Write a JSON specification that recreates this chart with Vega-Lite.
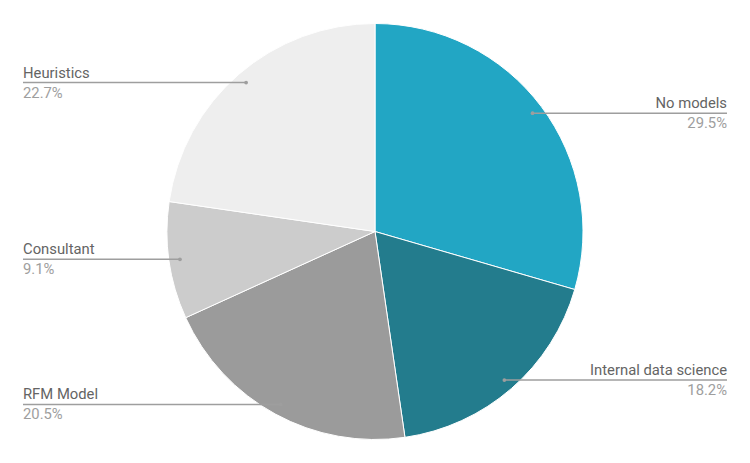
{
  "$schema": "https://vega.github.io/schema/vega-lite/v6.json",
  "width": 750,
  "height": 463,
  "padding": 0,
  "autosize": {"type": "fit", "contains": "padding"},
  "background": "white",
  "config": {"view": {"stroke": null}},
  "data": {
    "values": [
      {"category": "No models", "value": 29.5},
      {"category": "Internal data science", "value": 18.2},
      {"category": "RFM Model", "value": 20.5},
      {"category": "Consultant", "value": 9.1},
      {"category": "Heuristics", "value": 22.7}
    ]
  },
  "transform": [
    {"window": [{"op": "row_number", "as": "idx"}]},
    {"window": [{"op": "sum", "field": "value", "as": "cum"}], "sort": [{"field": "idx"}], "frame": [null, 0]},
    {"joinaggregate": [{"op": "sum", "field": "value", "as": "total"}]},
    {"calculate": "(datum.cum - datum.value / 2) / datum.total * 2 * PI", "as": "mid"},
    {"calculate": "197 * sin(datum.mid)", "as": "px"},
    {"calculate": "197 * cos(datum.mid)", "as": "py"},
    {"calculate": "datum.px > 0 ? 352 : -352", "as": "lx"},
    {"calculate": "format(datum.value / datum.total * 100, '.1f') + '%'", "as": "pct"}
  ],
  "encoding": {},
  "layer": [
    {
      "mark": {"type": "arc", "outerRadius": 208, "stroke": "white", "strokeWidth": 1},
      "encoding": {
        "theta": {"field": "value", "type": "quantitative", "stack": true},
        "order": {"field": "idx", "type": "quantitative"},
        "color": {
          "field": "category",
          "type": "nominal",
          "scale": {
            "domain": ["No models", "Internal data science", "RFM Model", "Consultant", "Heuristics"],
            "range": ["#22a6c4", "#237c8d", "#9b9b9b", "#cccccc", "#eeeeee"]
          },
          "legend": null
        }
      }
    },
    {
      "mark": {"type": "rule", "color": "#9e9e9e", "strokeWidth": 1.5},
      "encoding": {
        "x": {"field": "px", "type": "quantitative", "scale": {"domain": [-375, 375], "nice": false, "zero": false}, "axis": null},
        "x2": {"field": "lx"},
        "y": {"field": "py", "type": "quantitative", "scale": {"domain": [-231.5, 231.5], "nice": false, "zero": false}, "axis": null}
      }
    },
    {
      "mark": {"type": "point", "filled": true, "size": 14, "color": "#9e9e9e", "opacity": 1},
      "encoding": {
        "x": {"field": "px", "type": "quantitative"},
        "y": {"field": "py", "type": "quantitative"}
      }
    },
    {
      "mark": {"type": "text", "font": "Roboto", "fontSize": 14.8, "color": "#646464", "baseline": "alphabetic", "dy": -5, "align": {"expr": "datum.lx > 0 ? 'right' : 'left'"}},
      "encoding": {
        "x": {"field": "lx", "type": "quantitative"},
        "y": {"field": "py", "type": "quantitative"},
        "text": {"field": "category"}
      }
    },
    {
      "mark": {"type": "text", "font": "Roboto", "fontSize": 14.8, "color": "#9e9e9e", "baseline": "alphabetic", "dy": 15, "align": {"expr": "datum.lx > 0 ? 'right' : 'left'"}},
      "encoding": {
        "x": {"field": "lx", "type": "quantitative"},
        "y": {"field": "py", "type": "quantitative"},
        "text": {"field": "pct"}
      }
    }
  ]
}
